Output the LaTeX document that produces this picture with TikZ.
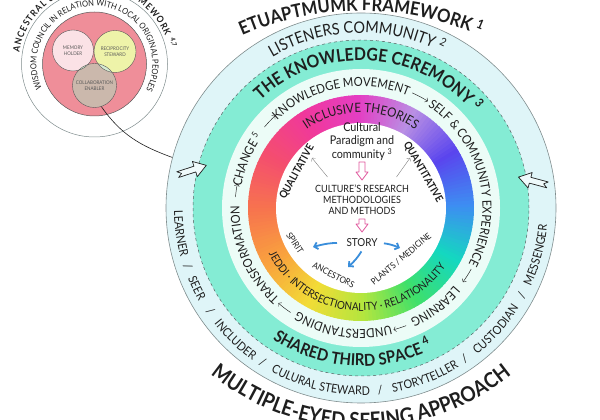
\documentclass[tikz,border=0pt]{standalone}
\usepackage{fontspec}
\setmainfont{Lato}[FakeStretch=0.9]
\usetikzlibrary{decorations.text,arrows.meta}

\definecolor{skyband}{HTML}{DFF5F8}
\definecolor{mintband}{HTML}{84ECD4}
\definecolor{paleband}{HTML}{ECFCF7}
\definecolor{ringline}{HTML}{7F8C8D}
\definecolor{inkc}{HTML}{1E1E1E}
\definecolor{pinkarr}{HTML}{E0569C}
\definecolor{bluearr}{HTML}{3A8EDB}
\definecolor{councilpink}{HTML}{EF8E99}
\definecolor{memoryc}{HTML}{FBE2E6}
\definecolor{reciprocityc}{HTML}{EEF3A9}
\definecolor{collabc}{HTML}{CBB8AC}
\definecolor{overlapc}{HTML}{D5EBD2}
\definecolor{rb0}{HTML}{3D8EF2}
\definecolor{rb1}{HTML}{5A45EE}
\definecolor{rb2}{HTML}{B98FE4}
\definecolor{rb3}{HTML}{E43FC4}
\definecolor{rb4}{HTML}{F0389C}
\definecolor{rb5}{HTML}{F44E6E}
\definecolor{rb6}{HTML}{F7744E}
\definecolor{rb7}{HTML}{F9A23E}
\definecolor{rb8}{HTML}{F2DC36}
\definecolor{rb9}{HTML}{B4E63E}
\definecolor{rb10}{HTML}{3FE06A}
\definecolor{rb11}{HTML}{14D8C0}
\definecolor{rb12}{HTML}{3D8EF2}

\newcommand{\arctext}[5]{%
  \path[decorate,decoration={text along path,text align=center,text color=inkc,text={#5}}]
    ([shift={(#3:#2pt)}]#1) arc[start angle=#3,end angle=#4,radius=#2pt];}

\tikzset{
  venn/.style={circle, draw=gray!70!black, line width=0.4pt, inner sep=0pt, align=center,
    text=gray!70!black, font=\fontsize{5}{6}\selectfont},
  pinkarrow/.style={draw=pinkarr, fill=white, line width=0.8pt, line join=round},
  bluearrow/.style={bluearr, line width=1.8pt, -{Straight Barb[length=3.5pt,width=7pt]}},
  grayarrow/.style={gray, line width=0.4pt, -{To[length=2.5pt]}},
  flowarrow/.style={inkc, line width=0.45pt, -{To[length=2.5pt]}},
  bigarrow/.style={draw=inkc, fill=skyband!50!white, line width=0.7pt, line join=round},
  smalllabel/.style={font=\fontsize{8.8}{8.8}\selectfont, text=inkc, inner sep=0pt},
  boldlabel/.style={font=\bfseries\fontsize{10.5}{10.5}\selectfont, text=inkc, inner sep=0pt}
}

\begin{document}
\begin{tikzpicture}[x=1pt,y=1pt]
  \useasboundingbox (0,0) rectangle (600,420);
  \coordinate (ctr) at (361,212);
  \coordinate (topc) at (361,110);
  \coordinate (botc) at (361,230);
  \coordinate (smallc) at (94.5,356);

  \node[circle, draw=ringline, fill=skyband, line width=0.6pt, inner sep=0pt, minimum size=390pt] (outer) at (ctr) {};
  \fill[mintband] (ctr) circle[radius=168pt];
  \draw[dashed, ringline!70!black, line width=0.5pt] (ctr) circle[radius=168pt];
  \fill[paleband] (ctr) circle[radius=139pt];

  \foreach \a in {0,2,...,358}{
    \pgfmathtruncatemacro{\ki}{\a/30}
    \pgfmathtruncatemacro{\kj}{\ki+1}
    \pgfmathtruncatemacro{\kp}{100*(\a-30*\ki)/30}
    \fill[rb\kj!\kp!rb\ki] (ctr) -- ([shift={(\a:113pt)}]ctr) arc[start angle=\a,end angle=\a+2.4,radius=113pt] -- cycle;
  }
  \fill[white] (ctr) circle[radius=85pt];

  \arctext{topc}{299}{130}{50}{|\bfseries\fontsize{18.5}{18.5}\selectfont|ETUAPTMUMK FRAMEWORK {\textsuperscript{1}}}
  \arctext{botc}{238}{215}{325}{|\bfseries\fontsize{21}{21}\selectfont|MULTIPLE-EYED SEEING APPROACH}

  \arctext{ctr}{175}{141.5}{41.5}{|\fontsize{16}{16}\selectfont|LISTENERS COMMUNITY {\textsuperscript{2}}}
  \arctext{ctr}{187}{163}{213}{|\fontsize{12}{12}\selectfont|LEARNER}
  \arctext{ctr}{187}{188.7}{208.7}{|\fontsize{12}{12}\selectfont|/}
  \arctext{ctr}{187}{186}{226}{|\fontsize{12}{12}\selectfont|SEER}
  \arctext{ctr}{187}{204.5}{224.5}{|\fontsize{12}{12}\selectfont|/}
  \arctext{ctr}{187}{196.4}{256.4}{|\fontsize{12}{12}\selectfont|INCLUDER}
  \arctext{ctr}{187}{227.5}{247.5}{|\fontsize{12}{12}\selectfont|/}
  \arctext{ctr}{187}{217}{297}{|\fontsize{12}{12}\selectfont|CULURAL STEWARD}
  \arctext{ctr}{187}{266}{286}{|\fontsize{12}{12}\selectfont|/}
  \arctext{ctr}{187}{260.7}{320.7}{|\fontsize{12}{12}\selectfont|STORYTELLER}
  \arctext{ctr}{187}{294.5}{314.5}{|\fontsize{12}{12}\selectfont|/}
  \arctext{ctr}{187}{288}{348}{|\fontsize{12}{12}\selectfont|CUSTODIAN}
  \arctext{ctr}{187}{321.5}{341.5}{|\fontsize{12}{12}\selectfont|/}
  \arctext{ctr}{187}{315}{375}{|\fontsize{12}{12}\selectfont|MESSENGER}

  \arctext{ctr}{147.5}{146.5}{26.5}{|\bfseries\fontsize{17.5}{17.5}\selectfont|THE KNOWLEDGE CEREMONY {\textsuperscript{3}}}
  \arctext{ctr}{158}{206.5}{326.5}{|\bfseries\fontsize{16.5}{16.5}\selectfont|SHARED THIRD SPACE {\textsuperscript{4}}}

  \arctext{ctr}{121.5}{187}{127}{|\fontsize{12.5}{12.5}\selectfont|CHANGE {\textsuperscript{5}}}
  \arctext{ctr}{121.5}{150.5}{50.5}{|\fontsize{12.5}{12.5}\selectfont|KNOWLEDGE MOVEMENT}
  \arctext{ctr}{121.5}{74.5}{-45.5}{|\fontsize{12.5}{12.5}\selectfont|SELF {\&} COMMUNITY EXPERIENCE}
  \arctext{ctr}{121.5}{-28}{-78}{|\fontsize{12.5}{12.5}\selectfont|LEARNING}
  \arctext{ctr}{121.5}{-63.5}{-133.5}{|\fontsize{12.5}{12.5}\selectfont|UNDERSTANDING}
  \arctext{ctr}{121.5}{-106.5}{-206.5}{|\fontsize{12.5}{12.5}\selectfont|TRANSFORMATION}
  \draw[flowarrow] ([shift={(140:126pt)}]ctr) arc[start angle=140,end angle=133,radius=126pt];
  \draw[flowarrow] ([shift={(66:126pt)}]ctr) arc[start angle=66,end angle=58,radius=126pt];
  \draw[flowarrow] ([shift={(-29:126pt)}]ctr) arc[start angle=-29,end angle=-36,radius=126pt];
  \draw[flowarrow] ([shift={(-69:126pt)}]ctr) arc[start angle=-69,end angle=-75,radius=126pt];
  \draw[flowarrow] ([shift={(-124:126pt)}]ctr) arc[start angle=-124,end angle=-131,radius=126pt];
  \draw[flowarrow] ([shift={(175:126pt)}]ctr) arc[start angle=175,end angle=169,radius=126pt];

  \arctext{ctr}{95.5}{150}{30}{|\fontsize{12.8}{12.8}\selectfont|INCLUSIVE THEORIES}
  \arctext{ctr}{103}{185.75}{345.75}{|\fontsize{11}{11}\selectfont|JEDDI · INTERSECTIONALITY · RELATIONALITY}

  \begin{scope}[shift={(192,250)}, rotate=18]
    \filldraw[bigarrow] (15,0) -- (3,8) -- (3,3) -- (-15,3) -- (-11,0) -- (-15,-3) -- (3,-3) -- (3,-8) -- cycle;
  \end{scope}
  \begin{scope}[shift={(533,239)}, rotate=165]
    \filldraw[bigarrow] (15,0) -- (3,8) -- (3,3) -- (-15,3) -- (-11,0) -- (-15,-3) -- (3,-3) -- (3,-8) -- cycle;
  \end{scope}

  \node[font=\fontsize{12}{13.5}\selectfont, align=center, text=inkc] (paradigm) at (362,278.5) {Cultural\\Paradigm and\\community \textsuperscript{3}};
  \filldraw[pinkarrow] (359,258) -- (365,258) -- (365,248) -- (368,248) -- (362,240) -- (356,248) -- (359,248) -- cycle;
  \node[font=\fontsize{10}{11}\selectfont, align=center, text=inkc] (methods) at (362,220.5) {CULTURE’S RESEARCH\\METHODOLOGIES\\AND METHODS};
  \filldraw[pinkarrow] (359,201) -- (365,201) -- (365,196) -- (368,196) -- (362,188) -- (356,196) -- (359,196) -- cycle;
  \node[font=\fontsize{11}{11}\selectfont, text=inkc] (story) at (362,177) {STORY};

  \node[boldlabel, rotate=61] (qualitative) at (297,248) {QUALITATIVE};
  \node[boldlabel, rotate=-60] (quantitative) at (423,248) {QUANTITATIVE};
  \node[smalllabel, rotate=-56] (spirit) at (295,177) {SPIRIT};
  \node[smalllabel, rotate=-27] (ancestors) at (333.5,145) {ANCESTORS};
  \node[smalllabel, rotate=40] (plants) at (401,161) {PLANTS / MEDICINE};

  \coordinate (qltip) at (312,262);
  \coordinate (qntip) at (410,262);
  \draw[grayarrow] ([shift={(16,4)}]methods.north west) -- (qltip);
  \draw[grayarrow] ([shift={(-16,4)}]methods.north east) -- (qntip);

  \coordinate (spiritend) at (313,173);
  \coordinate (ancestorend) at (348,153);
  \coordinate (plantend) at (400,172);
  \draw[bluearrow, shorten <=6pt] (story.west) to[bend right=8] (spiritend);
  \draw[bluearrow, shorten <=1pt] (story.south) to[bend left=8] (ancestorend);
  \draw[bluearrow, shorten <=3pt] (story.east) to[bend left=8] (plantend);

  \node[circle, draw=ringline, fill=white, line width=0.5pt, inner sep=0pt, minimum size=146pt] (framework) at (smallc) {};
  \node[circle, draw=gray!70!black, fill=councilpink, line width=0.5pt, inner sep=0pt, minimum size=104pt] (council) at (smallc) {};
  \fill[memoryc] (73,369.5) circle[radius=20.5pt];
  \fill[reciprocityc] (115,368.5) circle[radius=21pt];
  \fill[collabc] (94.5,334.5) circle[radius=22pt];
  \begin{scope}
    \clip (73,369.5) circle[radius=20.5pt];
    \fill[white] (115,368.5) circle[radius=21pt];
    \fill[overlapc] (94.5,334.5) circle[radius=22pt];
  \end{scope}
  \begin{scope}
    \clip (115,368.5) circle[radius=21pt];
    \fill[overlapc] (94.5,334.5) circle[radius=22pt];
  \end{scope}
  \node[venn, minimum size=41pt] (memory) at (73,369.5) {MEMORY\\HOLDER};
  \node[venn, minimum size=42pt] (reciprocity) at (115,368.5) {RECIPROCITY\\STEWARD};
  \node[venn, minimum size=44pt] (collab) at (94.5,334.5) {COLLABORATION\\ENABLER};

  \arctext{smallc}{58}{229}{-51}{|\fontsize{8.4}{8.4}\selectfont|WISDOM COUNCIL IN RELATION WITH LOCAL ORIGINAL PEOPLES}
  \path[decorate,decoration={text along path,text align=fit to path,text color=inkc,
    text={|\bfseries\fontsize{9.3}{9.3}\selectfont|ANCESTRAL {\&} RELATIONAL FRAMEWORK {\textsuperscript{4,7}}}}]
    ([shift={(171:76pt)}]smallc) arc[start angle=171,end angle=12,radius=76pt];

  \draw[inkc, line width=0.6pt] (collab.-72) to[out=-55,in=160] (outer.165);
\end{tikzpicture}
\end{document}
